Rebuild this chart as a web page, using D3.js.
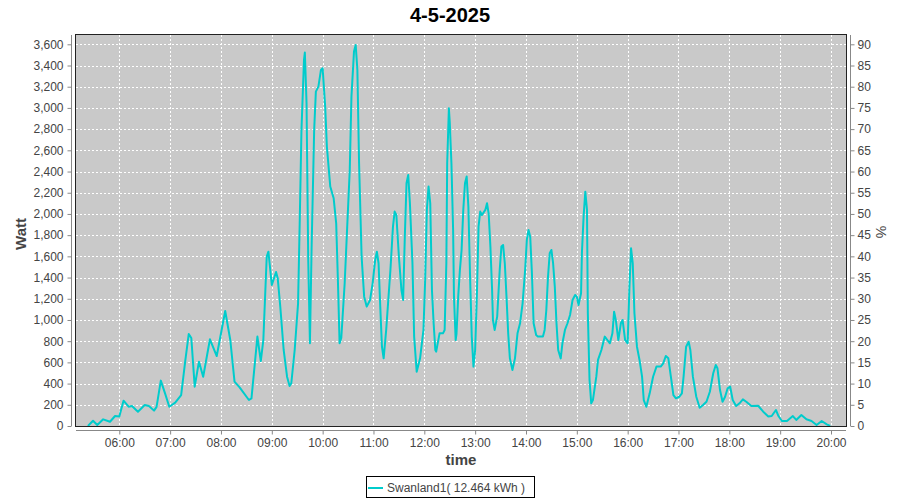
<!DOCTYPE html>
<html><head><meta charset="utf-8">
<script src="https://cdn.jsdelivr.net/npm/d3@7"></script>
<style>html,body{margin:0;padding:0;background:#fff;}svg{display:block;font-family:"Liberation Sans",Arial,sans-serif;}</style>
</head><body><svg id="c" width="900" height="500"></svg>
<script>
const title = "4-5-2025";
const seriesName = "Swanland1( 12.464 kWh )";
const times = ["5:23","5:29","5:34","5:41","5:49","5:55","6:00","6:05","6:11","6:15","6:22","6:30","6:35","6:41","6:44","6:49","6:54","6:59","7:06","7:13","7:18","7:22","7:25","7:29","7:34","7:39","7:47","7:55","8:05","8:11","8:16","8:22","8:33","8:36","8:43","8:47","8:50","8:54","8:56","9:00","9:05","9:07","9:10","9:14","9:18","9:21","9:23","9:27","9:31","9:33","9:35","9:38","9:39","9:41","9:43","9:45","9:47","9:50","9:52","9:55","9:58","10:00","10:03","10:05","10:09","10:13","10:16","10:18","10:20","10:22","10:26","10:29","10:32","10:34","10:37","10:39","10:41","10:43","10:46","10:49","10:52","10:56","10:59","11:02","11:04","11:06","11:08","11:10","11:12","11:15","11:20","11:23","11:25","11:27","11:30","11:33","11:35","11:37","11:39","11:41","11:43","11:46","11:48","11:51","11:55","11:59","12:01","12:03","12:05","12:07","12:09","12:11","12:13","12:14","12:18","12:22","12:24","12:26","12:27","12:29","12:30","12:32","12:34","12:35","12:37","12:38","12:40","12:42","12:44","12:46","12:48","12:50","12:52","12:54","12:56","12:58","13:00","13:02","13:04","13:06","13:08","13:12","13:14","13:16","13:18","13:20","13:21","13:23","13:26","13:29","13:31","13:33","13:35","13:37","13:39","13:41","13:44","13:47","13:50","13:53","13:56","13:59","14:01","14:03","14:05","14:07","14:09","14:12","14:14","14:20","14:22","14:24","14:26","14:28","14:30","14:32","14:34","14:36","14:38","14:41","14:43","14:46","14:49","14:52","14:55","14:58","15:00","15:02","15:05","15:06","15:08","15:10","15:12","15:13","15:15","15:17","15:19","15:23","15:25","15:29","15:33","15:36","15:39","15:42","15:44","15:46","15:49","15:52","15:54","15:57","16:00","16:02","16:04","16:06","16:08","16:11","16:14","16:17","16:19","16:22","16:26","16:30","16:34","16:39","16:42","16:45","16:48","16:51","16:54","16:57","17:01","17:04","17:06","17:09","17:12","17:14","17:17","17:21","17:25","17:29","17:33","17:37","17:41","17:44","17:46","17:49","17:52","17:55","17:58","18:01","18:04","18:08","18:12","18:16","18:20","18:26","18:34","18:40","18:46","18:50","18:55","18:58","19:02","19:08","19:15","19:19","19:25","19:31","19:37","19:43","19:49","19:55","19:59"];
const watts = [0,50,10,63,40,94,90,239,182,188,135,198,188,145,180,428,308,182,220,292,623,868,830,371,607,465,818,660,1085,811,418,365,245,260,843,613,811,1597,1644,1330,1453,1393,1126,717,465,377,403,717,1157,1943,2792,3453,3522,3045,1566,780,1692,2792,3154,3201,3358,3374,3012,2635,2258,2148,1912,1377,780,830,1346,1880,2415,3107,3531,3594,3358,2478,1597,1220,1126,1189,1346,1566,1644,1535,1126,748,638,906,1472,1880,2022,1990,1597,1283,1189,1786,2290,2368,2101,1535,843,512,638,906,1377,2038,2258,2101,1283,969,717,701,874,874,906,1535,2478,2996,2870,2478,1849,1220,811,870,1220,1472,1660,2038,2290,2353,2069,1409,843,560,717,1220,1880,2022,1990,2038,2101,2000,1692,1283,1000,906,1031,1472,1692,1707,1535,1220,874,638,528,638,874,969,1157,1472,1755,1849,1786,1440,969,858,843,843,906,1094,1409,1629,1660,1535,1315,969,717,638,780,906,969,1047,1189,1236,1220,1141,1252,1629,1975,2210,2038,1063,434,214,245,465,623,717,843,811,780,874,1078,1000,811,969,1000,811,780,1283,1676,1535,1063,748,623,465,245,182,308,465,560,560,591,660,638,465,292,261,276,308,465,748,795,717,465,276,172,198,229,323,497,575,544,339,229,276,355,371,245,188,214,251,229,188,191,135,90,94,151,94,47,47,94,57,104,63,47,10,47,16,0];
const xTicks = ["06:00","07:00","08:00","09:00","10:00","11:00","12:00","13:00","14:00","15:00","16:00","17:00","18:00","19:00","20:00"];
const wattTicks = [0,200,400,600,800,1000,1200,1400,1600,1800,2000,2200,2400,2600,2800,3000,3200,3400,3600];
const pctTicks = [0,5,10,15,20,25,30,35,40,45,50,55,60,65,70,75,80,85,90];

const svg = d3.select("#c");
const L = 76, R = 846, T = 35, B = 426;
const pt = d3.timeParse("%H:%M:%S");
const pm = d3.timeParse("%H:%M");
const x = d3.scaleTime().domain([pt("05:08:54"), pt("20:17:42")]).range([L, R]);
const yMax = 3600 * (B - T) / (B - 44.3);
const y = d3.scaleLinear().domain([0, yMax]).range([B, T]);
const y2 = d3.scaleLinear().domain([0, yMax / 40]).range([B, T]);
const data = times.map((t, i) => ({t: pm(t), v: watts[i]}));

// plot background
svg.append("rect").attr("x", L).attr("y", T).attr("width", R - L).attr("height", B - T).attr("fill", "#c9c9c9");
// grid
const g = svg.append("g").attr("stroke", "#fff").attr("stroke-width", 1).attr("stroke-dasharray", "2,2");
wattTicks.forEach(v => { const yy = Math.round(y(v)) + 0.5; g.append("line").attr("x1", L).attr("x2", R).attr("y1", yy).attr("y2", yy); });
xTicks.forEach(s => { const xx = Math.round(x(pm(s))) + 0.5; g.append("line").attr("x1", xx).attr("x2", xx).attr("y1", T).attr("y2", B); });

// clip + line
svg.append("clipPath").attr("id", "clp").append("rect").attr("x", L).attr("y", T).attr("width", R - L).attr("height", B - T);
svg.append("path").datum(data).attr("clip-path", "url(#clp)")
  .attr("fill", "none").attr("stroke", "#00cccc").attr("stroke-width", 2).attr("stroke-linejoin", "round")
  .attr("d", d3.line().x(d => x(d.t)).y(d => y(d.v)));

// outline
svg.append("rect").attr("x", L - 0.5).attr("y", T - 0.5).attr("width", R - L + 1).attr("height", B - T + 1).attr("fill", "none").attr("stroke", "#222").attr("stroke-width", 1);

const tickColor = "#444";
const axisColor = "#888";
// left axis
const ly = svg.append("g").attr("transform", "translate(71.5,0)");
ly.call(d3.axisLeft(y).tickValues(wattTicks).tickFormat(d3.format(",")).tickSize(4).tickPadding(4));
// bottom axis
const bx = svg.append("g").attr("transform", "translate(0,430.5)");
bx.call(d3.axisBottom(x).tickValues(xTicks.map(s => pm(s))).tickFormat(d3.timeFormat("%H:%M")).tickSize(4).tickPadding(4));
// right axis
const ry = svg.append("g").attr("transform", "translate(850.5,0)");
ry.call(d3.axisRight(y2).tickValues(pctTicks).tickSize(4).tickPadding(3));

[ly, bx, ry].forEach(a => {
  a.selectAll(".domain").attr("stroke", axisColor);
  a.selectAll(".tick line").attr("stroke", axisColor);
  a.selectAll("text").attr("fill", tickColor).style("font-size", "12px").style("font-family", '"Liberation Sans",Arial,sans-serif');
});
ly.select(".domain").attr("d", `M0,${T}V${B}`);
ry.select(".domain").attr("d", `M0,${T}V${B}`);
bx.select(".domain").attr("d", `M${L},0H${R}`);

// title
svg.append("text").attr("x", 450).attr("y", 22).attr("text-anchor", "middle").attr("font-size", 20).attr("font-weight", "bold").attr("fill", "#000").text(title);
// axis labels
svg.append("text").attr("transform", "translate(26,234) rotate(-90)").attr("text-anchor", "middle").attr("font-size", 15).attr("font-weight", "bold").attr("fill", "#444").text("Watt");
svg.append("text").attr("x", 461).attr("y", 465).attr("text-anchor", "middle").attr("font-size", 15).attr("font-weight", "bold").attr("fill", "#444").text("time");
svg.append("text").attr("transform", "translate(876,232) rotate(90)").attr("text-anchor", "middle").attr("font-size", 14).attr("fill", "#444").text("%");

// legend
const lg = svg.append("g");
lg.append("rect").attr("x", 366.5).attr("y", 476.5).attr("width", 168).attr("height", 21).attr("fill", "#fff").attr("stroke", "#000");
lg.append("line").attr("x1", 368).attr("x2", 383).attr("y1", 488).attr("y2", 488).attr("stroke", "#00cccc").attr("stroke-width", 2);
lg.append("text").attr("x", 387).attr("y", 492).attr("font-size", 12).attr("fill", "#444").text(seriesName);
</script></body></html>
